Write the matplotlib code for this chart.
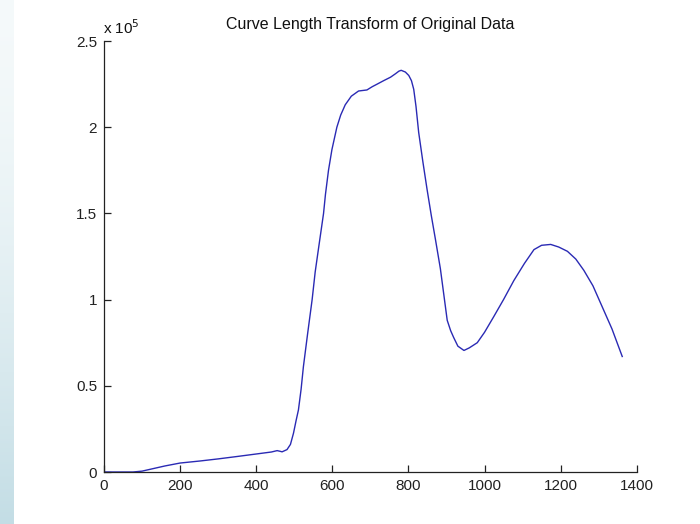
import numpy as np
import matplotlib
matplotlib.use("Agg")
import matplotlib.pyplot as plt
from matplotlib.ticker import FuncFormatter, FixedLocator

plt.rcParams['font.family'] = ['Liberation Sans', 'DejaVu Sans']

# Curve length transform samples (x index, transformed value)
x_vals = [0, 40, 76, 100, 130, 160, 200, 253, 300, 350, 402, 440, 455, 463,
          468, 481, 490, 498, 505, 511, 518, 524, 535, 547, 555, 564, 577,
          582, 590, 599, 612, 622, 634, 650, 669, 691, 705, 718, 735, 753,
          766, 775, 781, 792, 801, 808, 814, 820, 827, 838, 849, 860, 871,
          884, 893, 902, 911, 919, 930, 946, 960, 981, 1000, 1024, 1050,
          1077, 1105, 1130, 1150, 1174, 1195, 1218, 1240, 1261, 1285, 1305,
          1335, 1362]
y_vals = [0, 0, 0, 500, 2000, 3500, 5200, 6400, 7600, 9000, 10500, 11600,
          12400, 12000, 11700, 13000, 16000, 22500, 30000, 36000, 48000,
          61000, 80000, 100000, 116000, 130000, 150000, 161000, 175000,
          187000, 200000, 207000, 213000, 218000, 221000, 221600, 223500,
          225000, 227000, 229000, 231000, 232500, 233000, 232000, 230000,
          227000, 222000, 212000, 197000, 180000, 164000, 149000, 135000,
          118000, 103000, 88000, 82000, 78000, 73000, 70500, 72000, 75000,
          81000, 90000, 100000, 111000, 121000, 129000, 131500, 132000,
          130500, 128000, 123500, 117000, 108000, 98000, 83000, 67000]

title_text = "Curve Length Transform of Original Data"
x_ticks = [0, 200, 400, 600, 800, 1000, 1200, 1400]
y_ticks = [0, 50000, 100000, 150000, 200000, 250000]

fig = plt.figure(figsize=(7.0, 5.24), dpi=100)
fig.patch.set_facecolor('white')

# pale blue page strip on the left edge
strip = fig.add_axes([0, 0, 14 / 700, 1])
grad = np.linspace(0, 1, 256).reshape(-1, 1)
top = np.array([0.960, 0.978, 0.982])
bottom = np.array([0.765, 0.867, 0.898])
w = grad ** 1.6
img = top * (1 - w)[..., None] + bottom * w[..., None]
strip.imshow(img.reshape(256, 1, 3), aspect='auto', extent=[0, 1, 0, 1],
             origin='upper')
strip.set_axis_off()

ax = fig.add_axes([104 / 700, 52 / 524, 532.7 / 700, 431 / 524])
ax.plot(x_vals, y_vals, color='#2a2ab4', linewidth=1.0)

ax.set_xlim(0, 1400)
ax.set_ylim(0, 250000)
ax.xaxis.set_major_locator(FixedLocator(x_ticks))
ax.yaxis.set_major_locator(FixedLocator(y_ticks))
ax.yaxis.set_major_formatter(FuncFormatter(lambda v, p: f"{v / 1e5:g}"))

for s in ('top', 'right'):
    ax.spines[s].set_visible(False)
for s in ('left', 'bottom'):
    ax.spines[s].set_linewidth(0.9)
    ax.spines[s].set_color('#222222')

ax.tick_params(direction='in', length=5, width=0.9, colors='#222222',
               labelsize=11, pad=5)

ax.set_title(title_text, fontsize=11.5, color='#111111', pad=9)
ax.text(-0.002, 1.01, r"x 10$^{5}$", transform=ax.transAxes, fontsize=11,
        ha='left', va='bottom', color='#111111')

fig.savefig("out.png", dpi=100, facecolor='white')
